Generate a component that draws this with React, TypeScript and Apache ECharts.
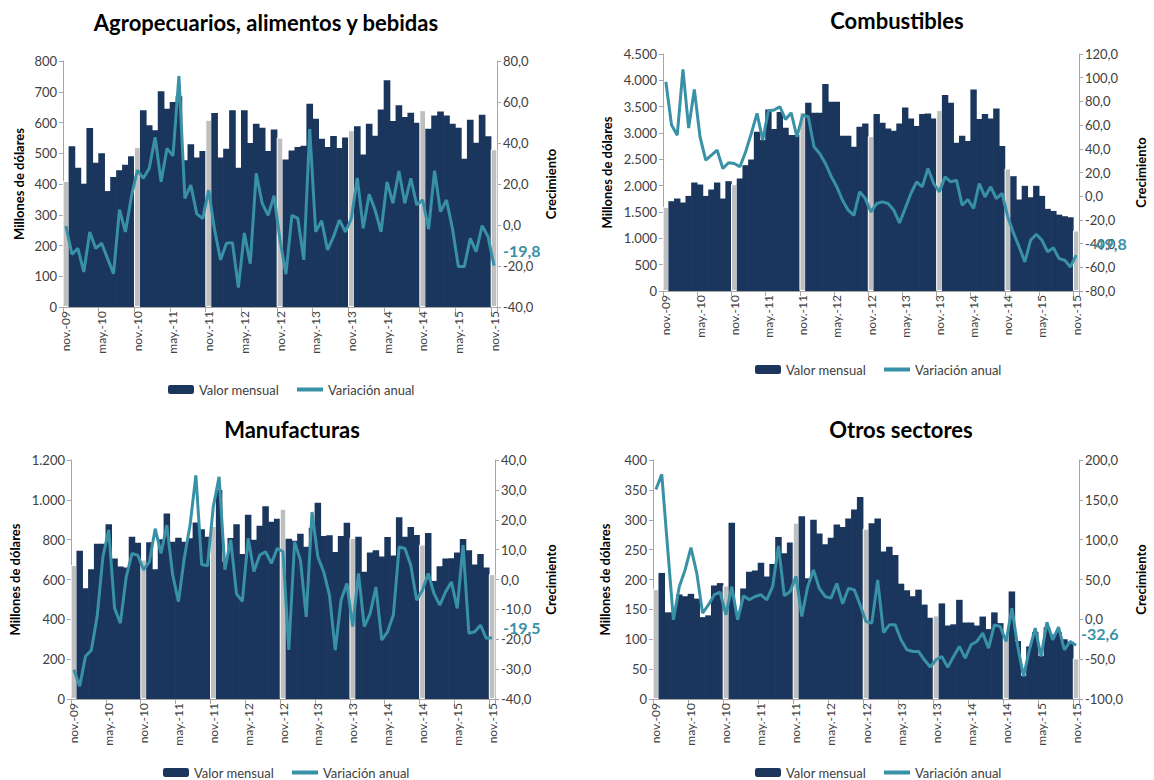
import React, { useEffect, useRef } from 'react';
import * as echarts from 'echarts';

const MONTHS = ['nov.', 'dic.', 'ene.', 'feb.', 'mar.', 'abr.', 'may.', 'jun.', 'jul.', 'ago.', 'sep.', 'oct.'];
const N_MONTHS = 73;
const categories: string[] = Array.from({ length: N_MONTHS }, (_, i) => {
  const yy = 9 + Math.floor((i + 10) / 12);
  return MONTHS[i % 12] + '-' + String(yy).padStart(2, '0');
});

const agroValor = [410, 523, 453, 401, 582, 469, 500, 377, 423, 445, 463, 490, 520,
  640, 591, 575, 702, 645, 667, 685, 477, 529, 486, 507, 609,
  631, 486, 515, 640, 453, 640, 533, 596, 583, 507, 577, 551,
  480, 509, 520, 524, 661, 612, 547, 520, 556, 517, 551, 575,
  588, 496, 596, 557, 642, 737, 605, 656, 618, 632, 599, 640,
  580, 623, 636, 623, 596, 583, 482, 609, 534, 625, 555, 513];
const agroVar = [-0.5, -14.3, -11.4, -22.9, -3.4, -11.4, -8.9, -16.4, -23.7, 7.5, -3.4, 13.8, 26.8,
  22.8, 27.6, 42.8, 21.1, 37.4, 33.7, 72.7, 13, 19.5, 5.4, 3.1, 17,
  -2.4, -17, -8.9, -8.6, -30.5, -3.9, -18.9, 25.2, 10.6, 4.7, 14.3, -7.3,
  -24, 4.7, 3.2, -17, 46.8, -3.3, 2.1, -12.2, -5.7, 2.4, -3.3, 3.2,
  23, -1.6, 15, 7.3, -3.3, 21, 10.6, 26.3, 10.6, 22.8, 9.8, 12.2,
  -2, 26.5, 6.5, 12.2, -1.6, -20.3, -20.3, -6.5, -13, -0.3, -5.7, -19.8];

const combValor = [1597, 1705, 1756, 1680, 1806, 2060, 2022, 1806, 1927, 2060, 1756, 2085, 2028,
  2136, 2389, 2497, 3023, 2865, 3448, 3074, 3400, 3100, 2960, 2960, 3400,
  3575, 3385, 3385, 3930, 3594, 3594, 2947, 2947, 2738, 3118, 3182, 2940,
  3360, 3194, 3087, 3042, 3182, 3486, 3277, 3131, 3360, 3372, 3277, 3435,
  3720, 3575, 2814, 2947, 2846, 3828, 3264, 3360, 3277, 3467, 2751, 2326,
  2180, 1737, 1997, 1780, 1997, 1806, 1560, 1520, 1450, 1420, 1400, 1150];
const combVar = [96.6, 60, 51.5, 107, 57.5, 90, 50, 30.4, 34.6, 38.9, 23.4, 28.2, 27.6,
  24.8, 37.5, 53, 69.9, 47.3, 72.1, 72.7, 75.5, 64.8, 70.4, 50.1, 68.5,
  67, 41.7, 36, 27.6, 16.9, 7.9, -3.4, -11.8, -16.1, 3.7, -2, -13.2,
  -6.2, -4.8, -6.2, -11.8, -22.5, -10.4, 2.3, 12.1, 7.9, 23.4, 10.7, 3.7,
  16.3, 12.1, 13.5, -7.6, -2.8, -10.4, 10.7, -0.6, 7.9, -2, 2.3, -17.5,
  -31, -42.8, -55.5, -37.2, -32.1, -37.2, -47, -43.4, -52.7, -54, -59.7, -49.8];

const manuValor = [673, 744, 556, 652, 780, 780, 877, 706, 665, 660, 815, 785, 700,
  787, 652, 802, 932, 790, 810, 790, 807, 886, 852, 815, 869,
  1050, 690, 808, 877, 728, 925, 800, 870, 968, 890, 905, 955,
  805, 795, 830, 765, 860, 985, 818, 822, 738, 819, 885, 809,
  815, 639, 735, 747, 716, 813, 720, 912, 815, 863, 824, 776,
  833, 593, 666, 705, 707, 735, 803, 747, 675, 728, 660, 627];
const manuVar = [-30.2, -35.7, -25.7, -23.7, -12.4, 7.7, 16.6, -9.6, -14.6, 0.8, 8.7, 8.1, 3.2,
  6, 17, 8.7, 18.2, 1.6, -7.4, 7.1, 18.2, 34.9, 5, 4.6, 24.4,
  34.4, 3.3, 13.3, -4.8, -7.3, 13.8, 2.7, 8.2, 9.3, 5.4, 10.4, 9.3,
  -23.6, 12.6, 6.5, -12.5, 22.6, 7.6, 2.6, -5.2, -23.6, -6.9, -1.3, -15.8,
  2, -15.8, -11.4, -2.5, -20.3, -17.5, -11.9, 10.9, 10.4, 4.8, -6.9, -3.6,
  2, -4.7, -8.6, -4.1, -0.8, -9.7, 11.5, -18, -17.5, -15.3, -19.7, -19.5];

const otrosValor = [184, 211, 145, 145, 175, 172, 176, 168, 137, 140, 190, 194, 190,
  295, 145, 185, 213, 215, 228, 205, 226, 271, 244, 262, 295,
  306, 202, 300, 277, 259, 270, 292, 288, 302, 317, 338, 285,
  294, 302, 247, 255, 241, 193, 182, 172, 183, 158, 136, 140,
  160, 123, 125, 166, 128, 128, 123, 138, 117, 145, 127, 105,
  180, 97, 39, 88, 112, 72, 120, 108, 112, 100, 95, 68];
const otrosVar = [163, 182, 90, -0.6, 41, 62, 90, 58, 7.8, 18, 31, 34, 5.7,
  41, -0.6, 29.5, 24.5, 28.7, 30.8, 24.5, 41, 92, 29.5, 35, 54,
  3.6, 41, 62, 39, 28.7, 26.6, 45, 19.5, 39, 37, 18, -2.7,
  -4.8, 49.5, -16.5, -6.9, -6.9, -25.7, -38.2, -40.3, -40.3, -50.8, -59.9, -50.8,
  -46.6, -60.3, -46.6, -34, -48.7, -31.9, -27.8, -17.3, -36.1, -6.9, -9, -27.8,
  14, -34, -71.6, -38.2, -11, -46.6, -3.6, -25.7, -9.8, -38.2, -27.8, -32.6];

const titles = ['Agropecuarios, alimentos y bebidas', 'Combustibles', 'Manufacturas', 'Otros sectores'];
const endLabels = ['-19,8', '-49,8', '-19,5', '-32,6'];

const NAVY = '#1B365D';
const GRAY = '#BFBFBF';
const TEAL = '#3891A6';
const AXIS = '#A6A6A6';
const TXT = '#404040';
const FONT = 'Lato, "Open Sans", sans-serif';

const panels = [
  { valor: agroValor, variacion: agroVar, grid: { left: 63, top: 61, width: 434, height: 246 },
    lmax: 800, lint: 100, rmin: -40, rmax: 80, rint: 20, title: [261, 6], legend: [163, 378],
    gapL: 38, gapR: 47, endOff: [4, -15] },
  { valor: combValor, variacion: combVar, grid: { left: 663, top: 54, width: 416, height: 237 },
    lmax: 4500, lint: 500, rmin: -80, rmax: 120, rint: 20, title: [892, 4], legend: [750, 358],
    gapL: 50, gapR: 55, endOff: [8, -12] },
  { valor: manuValor, variacion: manuVar, grid: { left: 71, top: 460, width: 424, height: 239 },
    lmax: 1200, lint: 200, rmin: -40, rmax: 40, rint: 10, title: [287, 413], legend: [158, 761],
    gapL: 50, gapR: 49, endOff: [6, -10] },
  { valor: otrosValor, variacion: otrosVar, grid: { left: 653, top: 460, width: 426, height: 239 },
    lmax: 400, lint: 50, rmin: -100, rmax: 200, rint: 50, title: [896, 413], legend: [750, 761],
    gapL: 42, gapR: 55, endOff: [0, -12] },
];

const fmtLeft = (v: number) => String(v).replace(/\B(?=(\d{3})+(?!\d))/g, '.');
const fmtRight = (v: number) => v.toFixed(1).replace('.', ',');

export default function App() {
  const ref = useRef<HTMLDivElement>(null);
  useEffect(() => {
    if (!ref.current) return;
    const chart = echarts.init(ref.current, null, { renderer: 'svg' });
    const title: any[] = [];
    const grid: any[] = [];
    const xAxis: any[] = [];
    const yAxis: any[] = [];
    const series: any[] = [];
    const legend: any[] = [];
    panels.forEach((p, k) => {
      title.push({
        text: titles[k], left: p.title[0], top: p.title[1], textAlign: 'center',
        textStyle: { fontFamily: FONT, fontWeight: 'bold', fontSize: 22, color: '#000' },
      });
      grid.push({ ...p.grid, containLabel: false });
      xAxis.push({
        type: 'category', gridIndex: k, data: categories,
        axisLine: { lineStyle: { color: AXIS } },
        axisTick: { show: true, interval: 5, length: 5, lineStyle: { color: AXIS } },
        axisLabel: { interval: 5, rotate: 90, margin: 4, fontSize: 12, color: TXT, fontFamily: FONT },
      });
      yAxis.push({
        type: 'value', gridIndex: k, position: 'left', min: 0, max: p.lmax, interval: p.lint,
        splitLine: { show: false },
        axisLine: { show: true, lineStyle: { color: AXIS } },
        axisTick: { show: true, length: 4, lineStyle: { color: AXIS } },
        axisLabel: { formatter: fmtLeft, fontSize: 13, color: TXT, fontFamily: FONT, margin: 6 },
        name: 'Millones de dólares', nameLocation: 'middle', nameRotate: 90, nameGap: p.gapL,
        nameTextStyle: { fontFamily: FONT, fontWeight: 'bold', fontSize: 13, color: '#000' },
      });
      yAxis.push({
        type: 'value', gridIndex: k, position: 'right', min: p.rmin, max: p.rmax, interval: p.rint,
        splitLine: { show: false },
        axisLine: { show: true, lineStyle: { color: AXIS } },
        axisTick: { show: true, length: 4, lineStyle: { color: AXIS } },
        axisLabel: { formatter: fmtRight, fontSize: 13, color: TXT, fontFamily: FONT, margin: 6 },
        name: 'Crecimiento', nameLocation: 'middle', nameRotate: 90, nameGap: p.gapR,
        nameTextStyle: { fontFamily: FONT, fontWeight: 'bold', fontSize: 13, color: '#000' },
      });
      series.push({
        type: 'bar', name: 'Valor mensual', xAxisIndex: k, yAxisIndex: 2 * k,
        barCategoryGap: '-12%',
        itemStyle: { color: NAVY },
        data: p.valor.map((v, i) => (i % 12 === 0
          ? { value: v, itemStyle: { color: GRAY, borderColor: '#fff', borderWidth: 1 } }
          : v)),
      });
      series.push({
        type: 'line', name: 'Variación anual', xAxisIndex: k, yAxisIndex: 2 * k + 1,
        symbol: 'none', showSymbol: false,
        lineStyle: { color: TEAL, width: 3 }, itemStyle: { color: TEAL },
        data: p.variacion,
        endLabel: {
          show: true, formatter: endLabels[k], color: TEAL, fontWeight: 'bold', fontSize: 16,
          fontFamily: FONT, distance: 5, offset: p.endOff,
        },
      });
      legend.push({
        left: p.legend[0], top: p.legend[1], orient: 'horizontal',
        itemWidth: 26, itemHeight: 9, itemGap: 16,
        textStyle: { fontFamily: FONT, fontSize: 13, color: TXT },
        data: [
          { name: 'Valor mensual', itemStyle: { borderWidth: 0 } },
          { name: 'Variación anual', itemStyle: { opacity: 0 }, lineStyle: { width: 4, color: TEAL } },
        ],
      });
    });
    chart.setOption({ animation: false, title, grid, xAxis, yAxis, series, legend });
    return () => chart.dispose();
  }, []);
  return <div ref={ref} style={{ position: 'absolute', left: 0, top: 0, width: 1154, height: 780 }} />;
}
